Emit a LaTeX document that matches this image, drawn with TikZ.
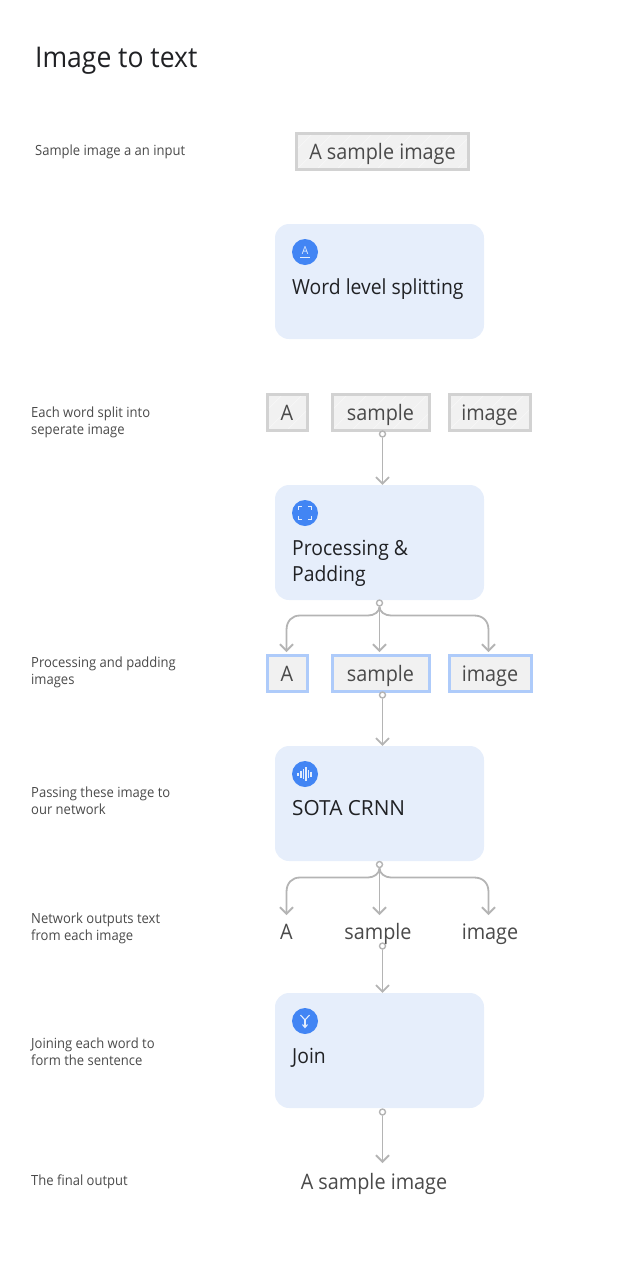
\documentclass[tikz,border=0pt]{standalone}
\usepackage{fontspec}
\setmainfont[FakeStretch=0.93]{Open Sans}
\usetikzlibrary{arrows.meta}

\definecolor{cardblue}{HTML}{E6EEFB}
\definecolor{iconblue}{HTML}{4285F4}
\definecolor{boxgrey}{HTML}{D2D2D2}
\definecolor{boxfill}{HTML}{F1F1F1}
\definecolor{boxblue}{HTML}{AECBFA}
\definecolor{linegrey}{HTML}{B4B4B4}
\definecolor{inktext}{HTML}{4A4A4A}
\definecolor{darktext}{HTML}{202124}

\tikzset{
    steplabel/.style={anchor=west, align=left, font=\fontsize{14}{17}\selectfont, text=inktext, inner sep=0pt},
    wordbox/.style={draw=boxgrey, line width=3pt, fill=boxfill, text=inktext, font=\fontsize{21.3}{21}\selectfont,
        inner sep=0pt, text height=18pt, text depth=2pt, minimum height=36pt},
    hatched/.style={path picture={
        \foreach \i in {-40,-20,...,200}
            \draw[white!45!boxfill, line width=.7pt] ([xshift=\i pt]path picture bounding box.south west) -- ++(45:70pt);
    }},
    bluebox/.style={wordbox, draw=boxblue},
    plainword/.style={text=inktext, font=\fontsize{21.3}{21}\selectfont, inner sep=0pt, text height=18pt, text depth=2pt},
    card/.style={fill=cardblue, rounded corners=14pt, minimum width=209pt, minimum height=115pt, inner sep=0pt},
    cardtext/.style={anchor=base west, align=left, font=\fontsize{20.8}{26}\selectfont, text=darktext, inner sep=0pt},
    iconbg/.style={circle, fill=iconblue, minimum size=26pt, inner sep=0pt},
    icon/.style={draw=white!85!iconblue, line width=1.1pt},
    startdot/.style={circle, draw=linegrey, fill=white, line width=1.4pt, minimum size=6pt, inner sep=0pt},
    conn/.style={draw=linegrey, line width=1.8pt, -{Straight Barb[width=13pt,length=6.5pt,line width=1.8pt]}}
}

\begin{document}
\begin{tikzpicture}[x=1pt, y=-1pt]

    % Fix the page to the size of the reference
    \useasboundingbox (0,0) rectangle (635,1280);

    % Title
    \node[anchor=base west, inner sep=0pt, text=darktext, font=\fontsize{28.5}{28}\selectfont] (title) at (35,67) {Image to text};

    % Step descriptions on the left
    \node[steplabel] (l1) at (35,152) {Sample image a an input};
    \node[steplabel] (l2) at (31,422) {Each word split into\\seperate image};
    \node[steplabel] (l3) at (31,672) {Processing and padding\\images};
    \node[steplabel] (l4) at (31,801) {Passing these image to\\our network};
    \node[steplabel] (l5) at (31,928) {Network outputs text\\from each image};
    \node[steplabel] (l6) at (31,1052) {Joining each word to\\form the sentence};
    \node[steplabel] (l7) at (31,1182) {The final output};

    % Input image
    \node[wordbox, hatched, minimum width=172pt] (input) at (382.5,151.5) {A sample image};

    % Cards
    \node[card] (split) at (379.5,281.5) {};
    \node[card] (proc) at (379.5,542.5) {};
    \node[card] (crnn) at (379.5,803.5) {};
    \node[card] (join) at (379.5,1050.5) {};

    \node[cardtext] (splittxt) at (292,294) {Word level splitting};
    \node[cardtext] (proctxt) at (292,581) {Processing \&\\Padding};
    \node[cardtext] (crnntxt) at (292,815) {\addfontfeature{FakeStretch=1}SOTA CRNN};
    \node[cardtext] (jointxt) at (292,1063) {Join};

    % Icons
    \node[iconbg] (iconA) at (305,252) {};
    \node[iconbg] (iconB) at (305,513) {};
    \node[iconbg] (iconC) at (305,774) {};
    \node[iconbg] (iconD) at (305,1021) {};

    \node[text=white!85!iconblue, inner sep=0pt, font=\fontsize{11}{11}\selectfont] (glyphA) at (305,250.5) {A};
    \draw[icon] (300,257.5) -- (310,257.5);

    \draw[icon] (298.5,510) -- (298.5,506.5) -- (302,506.5);
    \draw[icon] (308,506.5) -- (311.5,506.5) -- (311.5,510);
    \draw[icon] (311.5,516) -- (311.5,519.5) -- (308,519.5);
    \draw[icon] (302,519.5) -- (298.5,519.5) -- (298.5,516);

    \foreach \px/\py in {298/1.5, 301/3.5, 303.5/5, 306/7, 308.5/4, 311/2.5}
        \draw[icon] (\px,774-\py) -- (\px,774+\py);

    \draw[icon] (305,1020) -- (305,1027);
    \draw[icon] (302.5,1024.5) -- (305,1027.5) -- (307.5,1024.5);
    \draw[icon] (300.5,1015) -- (305,1020) -- (309.5,1015);

    % Split words
    \node[wordbox, hatched, minimum width=40pt] (a1) at (287,412) {A};
    \node[wordbox, hatched, minimum width=97pt] (sample1) at (380.5,412) {sample};
    \node[wordbox, hatched, minimum width=81pt] (image1) at (489.5,412) {image};

    % Padded words
    \node[bluebox, minimum width=40pt] (a2) at (287,673) {A};
    \node[bluebox, minimum width=97pt] (sample2) at (380.5,673) {sample};
    \node[bluebox, minimum width=82pt] (image2) at (490,673) {image};

    % Network output
    \node[plainword] (a3) at (286.5,931) {A};
    \node[plainword] (sample3) at (378,931) {sample};
    \node[plainword] (image3) at (490,931) {image};

    % Final output
    \node[plainword] (final) at (374,1181) {A sample image};

    % Straight connectors
    \node[startdot] (d1) at (382.5,434) {};
    \draw[conn] (d1) -- (d1 |- proc.north);
    \node[startdot] (d2) at (382.5,695) {};
    \draw[conn] (d2) -- (d2 |- crnn.north);
    \node[startdot] (d3) at (382.5,946) {};
    \draw[conn] (d3) -- (d3 |- join.north);
    \node[startdot] (d4) at (382.5,1112) {};
    \draw[conn] (d4) -- (382.5,1163);

    % Branching connectors
    \node[startdot] (b1) at (379.5,603) {};
    \node[startdot] (b2) at (379.5,864.5) {};

    \draw[conn] (b1) -- (379.5,652);
    \draw[conn] (b1.south) .. controls (379.5,612) and (374,615.5) .. (368,615.5) -- (300,615.5)
        .. controls (292,615.5) and (286.5,621) .. (286.5,630) -- (286.5,652);
    \draw[conn] (b1.south) .. controls (379.5,612) and (385,615.5) .. (391,615.5) -- (474,615.5)
        .. controls (483,615.5) and (488.5,621) .. (488.5,630) -- (488.5,652);

    \draw[conn] (b2) -- (379.5,915);
    \draw[conn] (b2.south) .. controls (379.5,873.5) and (374,877.5) .. (368,877.5) -- (300,877.5)
        .. controls (292,877.5) and (286.5,883) .. (286.5,892) -- (286.5,915);
    \draw[conn] (b2.south) .. controls (379.5,873.5) and (385,877.5) .. (391,877.5) -- (474,877.5)
        .. controls (483,877.5) and (488.5,883) .. (488.5,892) -- (488.5,915);

\end{tikzpicture}
\end{document}
